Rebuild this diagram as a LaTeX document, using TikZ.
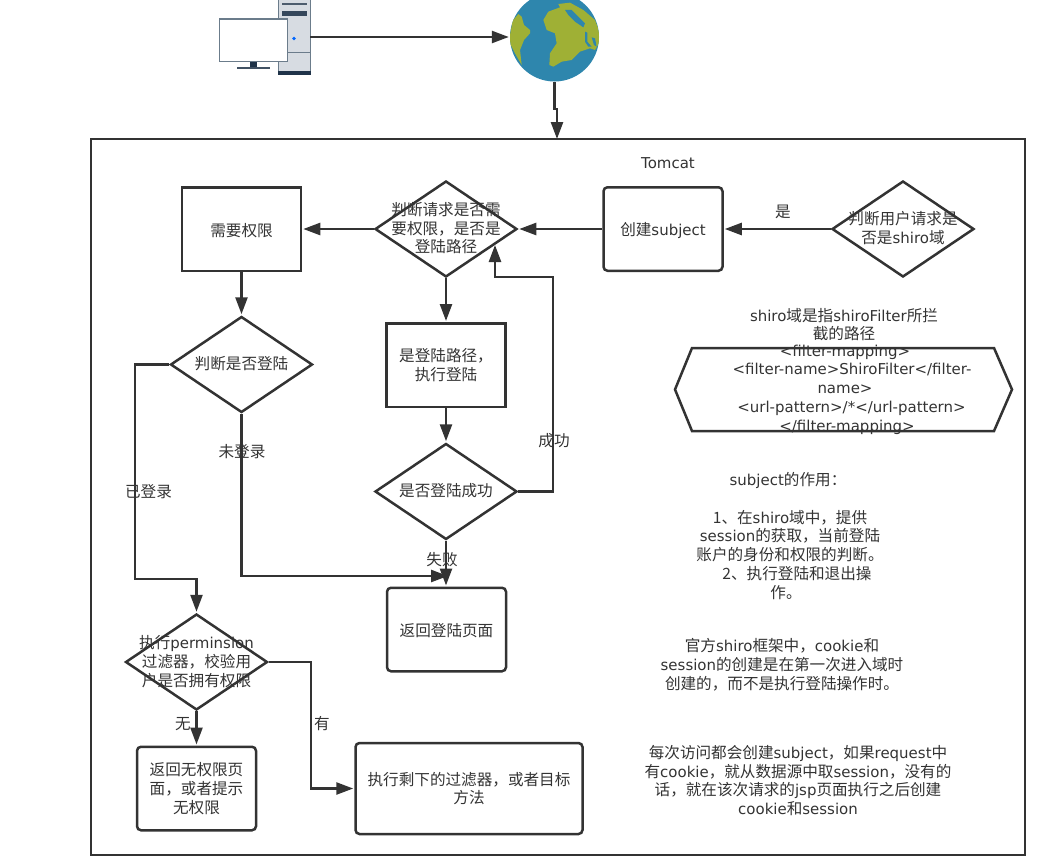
\documentclass[tikz,border=0pt]{standalone}
\usepackage{fontspec}
\setmainfont{Noto Sans CJK SC}
\newfontfamily\dejavu[Scale=0.96]{DejaVu Sans}
\usetikzlibrary{arrows.meta,shapes.geometric}
\definecolor{linec}{HTML}{333333}
\definecolor{slate}{HTML}{6B7C8B}
\definecolor{navy}{HTML}{1F3349}
\definecolor{towerc}{HTML}{D7DCE2}
\definecolor{sea}{HTML}{2E86AD}
\definecolor{land}{HTML}{9FB035}
\newcommand{\lat}[1]{{\dejavu #1}}
% text of a diamond may stick out of it
\newcommand{\dtext}[1]{\smash{\makebox[0pt]{\raisebox{-.32em}{\begin{tabular}{@{}c@{}}#1\end{tabular}}}}}
\tikzset{
  txt/.style={text=linec,font=\fontsize{15.6}{18.8}\selectfont,align=center,inner sep=0pt},
  sqbox/.style={txt,draw=linec,line width=2.5pt,minimum width=119pt,minimum height=83.5pt,execute at begin node={\rule{0pt}{15.7pt}}},
  rdbox/.style={sqbox,rounded corners=4pt},
  decide/.style={txt,draw=linec,line width=2.5pt,diamond,aspect=1.48,minimum width=142pt,minimum height=96pt},
  conn/.style={draw=linec,line width=2.5pt,->,shorten >=1pt},
}
\begin{document}
\begin{tikzpicture}[x=1pt,y=-1pt,>={Triangle[length=17pt,width=12pt]}]
\path[use as bounding box,clip] (0,0) rectangle (1059,862);
\node[draw=linec,line width=2.5pt,minimum width=934pt,minimum height=716pt,inner sep=0pt] (tomcat) at (558,497) {};
\node[txt] (tomcatname) at (668,162.8) {\lat{Tomcat}};
% tower and monitor
\filldraw[fill=towerc,draw=slate,line width=1pt] (278,-2) rectangle (310,74);
\fill[navy] (277.5,71) rectangle (310.5,75);
\fill[navy!80] (282,2.8) rectangle (307,5.2);
\fill[navy!90] (282,11) rectangle (307,15.5);
\draw[slate,line width=1pt] (278,52.5)--(310,52.5);
\fill[blue!60!cyan] (294,38.5) circle (1.8);
\fill[navy] (250,61) rectangle (257.3,68);
\fill[navy!85] (237,66.5) rectangle (270,69);
\node[fill=white,draw=slate,line width=1.6pt,minimum width=68pt,minimum height=42.6pt,inner sep=0pt] (monitor) at (253.6,40) {};
\coordinate (tower) at (310,37);
% globe
\node[circle,fill=sea,minimum size=89pt,inner sep=0pt] (globe) at (554.5,37) {};
\begin{scope}
\clip (554.5,37) circle (44.5);
\begin{scope}[shift={(500,0)},x=.3333pt,y=-.3333pt]
\fill[land] (30,105)--(38,62)--(55,42)--(65,50)--(72,75)--(90,90)--(90,100)--(72,120)--(60,150)--(65,195)--(45,160)--(30,130)--cycle;
\fill[land] (130,60)--(145,35)--(180,22)--(175,12)--(210,8)--(250,30)--(285,60)--(300,100)--(297,130)--(285,150)--(270,145)--(240,155)--(215,180)--(185,185)--(160,200)--(148,195)--(150,160)--(170,130)--(165,100)--(140,90)--cycle;
\fill[sea] (195,30)--(215,30)--(255,70)--(250,82)--(225,65)--(205,45)--cycle;
\fill[sea] (218,5)--(240,10)--(255,22)--(240,22)--cycle;
\fill[sea] (255,95)--(262,98)--(262,125)--(275,140)--(265,140)--(255,125)--cycle;
\fill[sea] (275,112)--(285,115)--(290,140)--(282,135)--cycle;
\end{scope}
\end{scope}
% flow nodes
\node[decide] (shiro) at (903,229) {\dtext{判断用户请求是\\否是\lat{shiro}域}};
\node[rdbox] (subject) at (663,229) {创建\lat{subject}};
\node[decide] (reqdec) at (446,229) {\dtext{判断请求是否需\\要权限，是否是\\登陆路径}};
\node[sqbox] (needperm) at (241.5,229) {需要权限};
\node[decide] (islogin) at (241.5,364.5) {\dtext{判断是否登陆}};
\node[sqbox] (dologin) at (446,365) {是登陆路径，\\执行登陆};
\node[decide] (success) at (446,491.5) {\dtext{是否登陆成功}};
\node[rdbox] (backlogin) at (446.5,629.5) {返回登陆页面};
\node[decide] (perm) at (196.5,662) {\dtext{执行\lat{perminsion}\\过滤器，校验用\\户是否拥有权限}};
\node[rdbox] (noperm) at (196.5,788.5) {返回无权限页\\面，或者提示\\无权限};
\node[rdbox,minimum width=227pt,minimum height=91pt] (rest) at (469,788.5) {执行剩下的过滤器，或者目标\\方法};
% bends
\coordinate (framein) at (557,139);
\coordinate (globebend) at (557,109);
\coordinate (succbend) at (553,277);
\coordinate (retin) at (495,244);
\coordinate (failin) at (449,576);
\coordinate (logbend) at (135,579);
\coordinate (permbend) at (311,720);
% connectors
\draw[conn] (tower)--(globe.west);
\draw[conn,shorten >=0pt] (globe.south)|-(globebend)--(framein);
\draw[conn] (shiro.west)--(subject.east);
\draw[conn] (subject.west)--(reqdec.east);
\draw[conn] (reqdec.west)--(needperm.east);
\draw[conn] (needperm.south)--(islogin.north);
\draw[conn] (reqdec.south)--(dologin.north);
\draw[conn] (dologin.south)--(success.north);
\draw[conn] (success.east)-|(succbend)-|(retin);
\draw[conn] (success.south)--(backlogin.north-|success.south);
\draw[conn] (islogin.south)|-(failin);
\draw[conn] (islogin.west)-|(logbend)-|(perm.north);
\draw[conn] (perm.south)--(noperm.north);
\draw[conn] (perm.east)-|(permbend)|-(rest.west);
% labels
\node[txt] (yes) at (783,211.8) {是};
\node[txt] (succlab) at (554,440.8) {成功};
\node[txt] (faillab) at (442,559.8) {失败};
\node[txt] (notlab) at (242,451.8) {未登录};
\node[txt] (inlab) at (148.5,491.8) {已登录};
\node[txt] (nolab) at (183,723.8) {无};
\node[txt] (haslab) at (322,723.8) {有};
% notes
\node[txt] (shironote) at (844,324.5) {\lat{shiro}域是指\lat{shiroFilter}所拦\\截的路径};
\draw[draw=linec,line width=2.5pt] (675,389.5)--(692,348)--(994,348)--(1012,389.5)--(994,431)--(692,431)--cycle;
\node[txt] (hextext) at (845,389.5) {\lat{<filter-mapping>}\\\hspace*{14pt}\lat{<filter-name>ShiroFilter</filter-}\\\lat{name>}\hspace*{16pt}\\\hspace*{13pt}\lat{<url-pattern>/*</url-pattern>}\\\hspace*{4pt}\lat{</filter-mapping>}};
\node[txt] (subjnote) at (790,536) {\lat{subject}的作用：\hspace*{4pt}\\~\\1、在\lat{shiro}域中，提供\\\lat{session}的获取，当前登陆\\账户的身份和权限的判断。\\\hspace*{14pt}2、执行登陆和退出操\\作。\hspace*{8pt}};
\node[txt] (cookienote) at (782,664.5) {官方\lat{shiro}框架中，\lat{cookie}和\\\lat{session}的创建是在第一次进入域时\\创建的，而不是执行登陆操作时。};
\node[txt] (eachnote) at (798,780.5) {每次访问都会创建\lat{subject}，如果\lat{request}中\\有\lat{cookie}，就从数据源中取\lat{session}，没有的\\话，就在该次请求的\lat{jsp}页面执行之后创建\\\lat{cookie}和\lat{session}};
\end{tikzpicture}
\end{document}
